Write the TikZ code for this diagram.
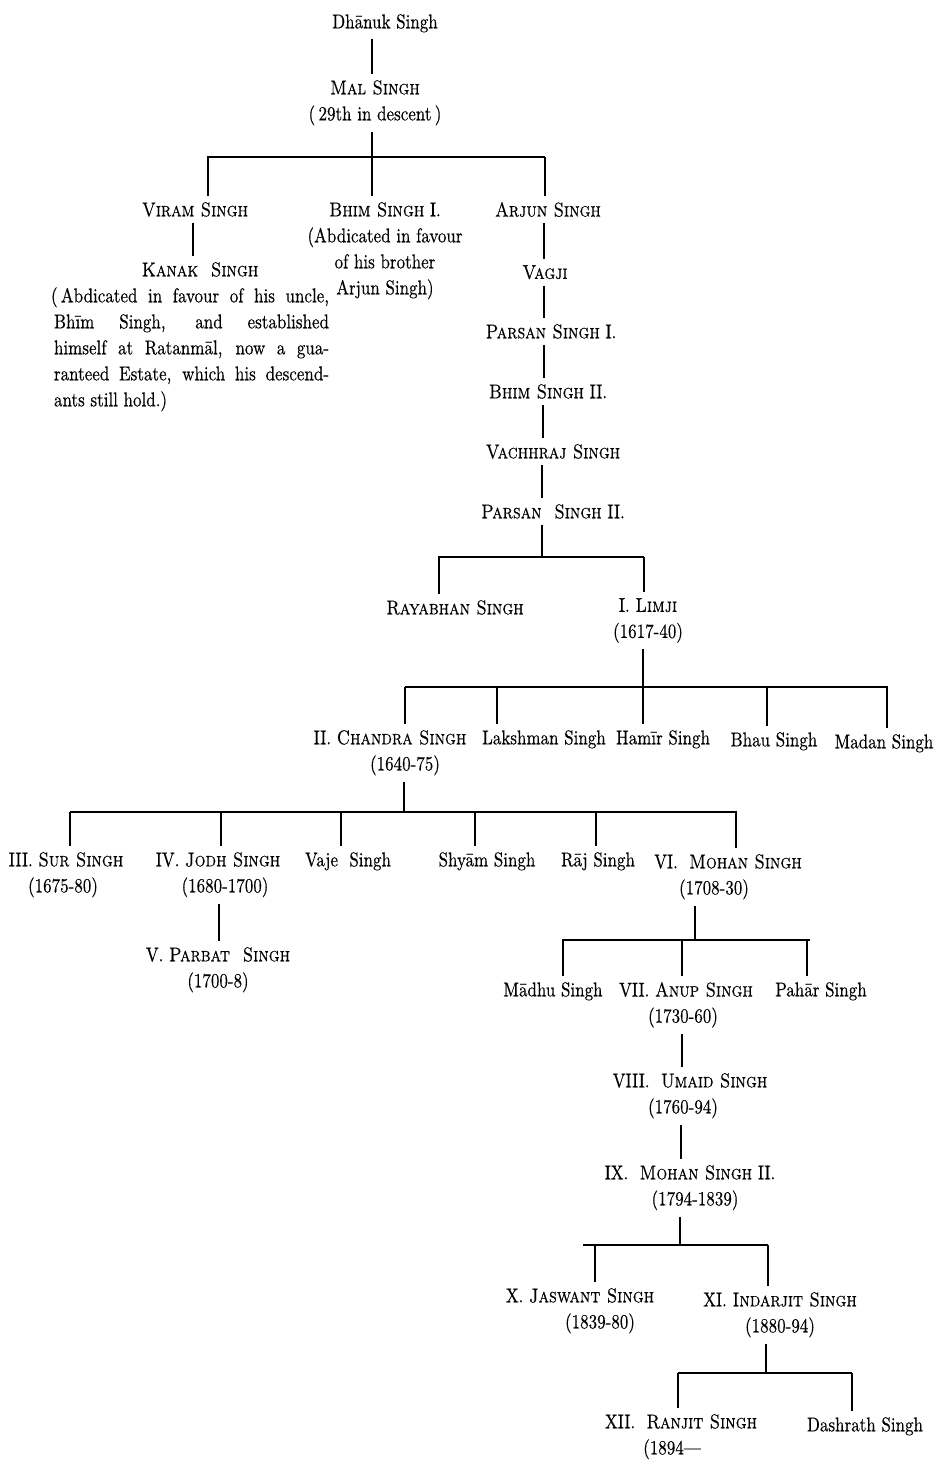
\documentclass[tikz,border=0pt]{standalone}
\usepackage{fontspec}
\setmainfont{lmroman10-regular.otf}[
  FakeStretch=0.85, FakeBold=0.35,
  SmallCapsFont=lmromancaps10-regular.otf,
  SmallCapsFeatures={FakeStretch=0.85, FakeBold=0.35}]
\newcommand\fs{\fontsize{20}{26}\selectfont}
\tikzset{
  person/.style={anchor=north, inner xsep=0pt, inner ysep=6pt, align=center, font=\fs},
  link/.style={line width=1.1pt},
  famline/.style={line width=2.4pt}
}
\newcommand\pnode[4]{\node[person] (#1) at (#2,#3-14) {#4};}
\newcommand\vlink[3]{\coordinate (v-#1) at (#3,0); \draw[link] (#1.south -| v-#1) -- (#2.north -| v-#1);}
\newcommand\drop[2]{\draw[link] (#1) -- (#1 |- #2.north);}
\begin{document}
\begin{tikzpicture}[x=1pt,y=-1pt]
\fill[white] (0,0) rectangle (944,1462);
\useasboundingbox (0,0) rectangle (944,1462);

% ---- nodes ----
\pnode{dhanuk}{385}{22}{Dhānuk Singh}
\pnode{mal}{375}{88}{\textsc{Mal Singh}\\(\,29th in descent\,)}
\pnode{viram}{195}{210}{\textsc{Viram Singh}}
\node[person, text width=278pt, align=justify] (kanak) at (190,256)
  {\centerline{\hspace*{20pt}\textsc{Kanak\ \ Singh}}\par
   (\,Abdicated in favour of his uncle,\linebreak
   \hspace*{3pt}Bhīm Singh, and established\linebreak
   \hspace*{3pt}himself at Ratanmāl, now a gua-\linebreak
   \hspace*{3pt}ranteed Estate, which his descend-\linebreak
   \hspace*{3pt}ants still hold.)};
\pnode{bhimA}{385}{210}{\textsc{Bhim Singh}\ I.\\(Abdicated in favour\\of his brother\\Arjun Singh)}
\pnode{arjun}{548}{210}{\textsc{Arjun Singh}}
\pnode{vagji}{545}{273}{\textsc{Vagji}}
\pnode{parsanA}{551}{332}{\textsc{Parsan Singh} I.}
\pnode{bhimB}{548}{392}{\textsc{Bhim Singh} II.}
\pnode{vachhraj}{553}{452}{\textsc{Vachhraj Singh}}
\pnode{parsanB}{553}{512}{\textsc{Parsan\ \ Singh} II.}
\pnode{rayabhan}{455}{608}{\textsc{Rayabhan Singh}}
\pnode{limji}{648}{606}{I. \textsc{Limji}\\(1617-40)}
\pnode{chandra}{390}{738}{II. \textsc{Chandra Singh}\\\hspace*{30pt}(1640-75)}
\pnode{lakshman}{544}{738}{Lakshman Singh}
\pnode{hamir}{663}{738}{Hamīr Singh}
\pnode{bhau}{774}{740}{Bhau Singh}
\pnode{madan}{884}{742}{Madan Singh}
\pnode{sur}{66}{860}{III. \textsc{Sur Singh}\\(1675-80)\hspace*{6pt}}
\pnode{jodh}{218}{860}{IV. \textsc{Jodh Singh}\\\hspace*{14pt}(1680-1700)}
\pnode{vaje}{348}{860}{Vaje\ \ Singh}
\pnode{shyam}{487}{860}{Shyām Singh}
\pnode{raj}{598}{860}{Rāj Singh}
\pnode{mohanA}{728}{862}{VI.\ \ \textsc{Mohan Singh}\\(1708-30)\hspace*{28pt}}
\pnode{parbat}{218}{955}{V. \textsc{Parbat\ \ Singh}\\(1700-8)}
\pnode{madhu}{553}{990}{Mādhu Singh}
\pnode{anup}{686}{990}{VII. \textsc{Anup Singh}\\(1730-60)\hspace*{6pt}}
\pnode{pahar}{821}{990}{Pahār Singh}
\pnode{umaid}{690}{1081}{VIII.\ \ \textsc{Umaid Singh}\\(1760-94)\hspace*{14pt}}
\pnode{mohanB}{690}{1173}{IX.\ \ \textsc{Mohan Singh} II.\\\hspace*{10pt}(1794-1839)}
\pnode{jaswant}{580}{1296}{X. \textsc{Jaswant Singh}\\\hspace*{40pt}(1839-80)}
\pnode{indarjit}{780}{1300}{XI. \textsc{Indarjit Singh}\\(1880-94)}
\pnode{ranjit}{681}{1422}{XII.\ \ \textsc{Ranjit Singh}\\(1894---\hspace*{18pt}}
\pnode{dashrath}{865}{1425}{Dashrath Singh}

% ---- single-line descents ----
\vlink{dhanuk}{mal}{372}
\vlink{viram}{kanak}{193}
\vlink{arjun}{vagji}{544}
\vlink{vagji}{parsanA}{544}
\vlink{parsanA}{bhimB}{544}
\vlink{bhimB}{vachhraj}{543}
\vlink{vachhraj}{parsanB}{542}
\vlink{jodh}{parbat}{219}
\vlink{anup}{umaid}{682}
\vlink{umaid}{mohanB}{681}

% ---- family 1: Mal Singh ----
\coordinate (f1L) at (207,157); \coordinate (f1R) at (545,157);
\coordinate (f1p) at (372,157);
\coordinate (f1a) at (208,157); \coordinate (f1b) at (372,157); \coordinate (f1c) at (545,157);
\draw[famline] (f1L) -- (f1R);
\draw[link] (mal.south -| f1p) -- (f1p);
\drop{f1a}{viram}\drop{f1b}{bhimA}\drop{f1c}{arjun}

% ---- family 2: Parsan Singh II ----
\coordinate (f2L) at (438,557); \coordinate (f2R) at (644,557);
\coordinate (f2p) at (542,557);
\coordinate (f2a) at (439,557); \coordinate (f2b) at (644,557);
\draw[famline] (f2L) -- (f2R);
\draw[link] (parsanB.south -| f2p) -- (f2p);
\drop{f2a}{rayabhan}\drop{f2b}{limji}

% ---- family 3: Limji ----
\coordinate (f3L) at (405,687); \coordinate (f3R) at (888,687);
\coordinate (f3p) at (643,687);
\coordinate (f3a) at (405,687); \coordinate (f3b) at (497,687); \coordinate (f3c) at (643,687);
\coordinate (f3d) at (767,687); \coordinate (f3e) at (887,687);
\draw[famline] (f3L) -- (f3R);
\draw[link] (limji.south -| f3p) -- (f3p);
\drop{f3a}{chandra}\drop{f3b}{lakshman}\drop{f3c}{hamir}\drop{f3d}{bhau}\drop{f3e}{madan}

% ---- family 4: Chandra Singh ----
\coordinate (f4L) at (70,812); \coordinate (f4R) at (737,812);
\coordinate (f4p) at (404,812);
\coordinate (f4a) at (70,812); \coordinate (f4b) at (221,812); \coordinate (f4c) at (341,812);
\coordinate (f4d) at (475,812); \coordinate (f4e) at (596,812); \coordinate (f4f) at (736,812);
\draw[famline] (f4L) -- (f4R);
\draw[link] (chandra.south -| f4p) -- (f4p);
\drop{f4a}{sur}\drop{f4b}{jodh}\drop{f4c}{vaje}\drop{f4d}{shyam}\drop{f4e}{raj}\drop{f4f}{mohanA}

% ---- family 5: Mohan Singh ----
\coordinate (f5L) at (562,940); \coordinate (f5R) at (810,940);
\coordinate (f5p) at (695,940);
\coordinate (f5a) at (563,940); \coordinate (f5b) at (682,940); \coordinate (f5c) at (807,940);
\draw[famline] (f5L) -- (f5R);
\draw[link] (mohanA.south -| f5p) -- (f5p);
\drop{f5a}{madhu}\drop{f5b}{anup}\drop{f5c}{pahar}

% ---- family 6: Mohan Singh II ----
\coordinate (f6L) at (583,1245); \coordinate (f6R) at (768,1245);
\coordinate (f6p) at (680,1245);
\coordinate (f6a) at (595,1245); \coordinate (f6b) at (768,1245);
\draw[famline] (f6L) -- (f6R);
\draw[link] (mohanB.south -| f6p) -- (f6p);
\drop{f6a}{jaswant}\drop{f6b}{indarjit}

% ---- family 7: Indarjit Singh ----
\coordinate (f7L) at (678,1373); \coordinate (f7R) at (852,1373);
\coordinate (f7p) at (766,1373);
\coordinate (f7a) at (678,1373); \coordinate (f7b) at (852,1373);
\draw[famline] (f7L) -- (f7R);
\draw[link] (indarjit.south -| f7p) -- (f7p);
\drop{f7a}{ranjit}\drop{f7b}{dashrath}
\end{tikzpicture}
\end{document}
